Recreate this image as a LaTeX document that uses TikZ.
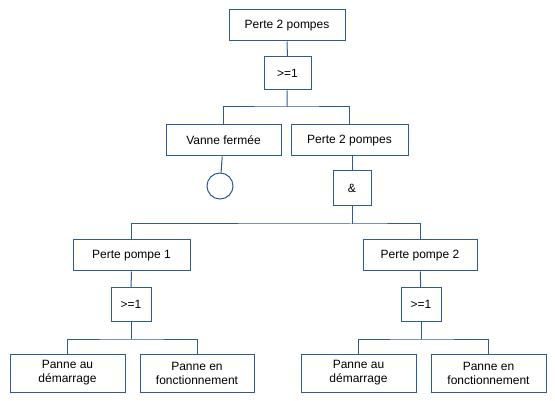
\documentclass[tikz,border=0pt]{standalone}
\usepackage{fontspec}
\setmainfont{Liberation Sans}
\begin{document}
\begin{tikzpicture}[x=1pt,y=-1pt,
  bx/.style={draw=bl,fill=white,line width=1pt,inner sep=0pt,font=\fontsize{12}{14}\selectfont,align=center},
  ln/.style={draw=bl,line width=1pt}]
\definecolor{bl}{HTML}{2E5A96}
\useasboundingbox (0,0) rectangle (555,401);
\newcommand\bxat[6]{\node[bx,minimum width=#4-#2,minimum height=#5-#3] (#1) at ({(#2+#4)/2},{(#3+#5)/2}) {#6};}
\bxat{t}{229}{10}{345}{41}{Perte 2 pompes}
\bxat{g1}{264}{57}{311}{90}{>=1}
\bxat{v}{166}{125}{281}{156}{Vanne fermée}
\bxat{p2}{291}{125}{408}{156}{Perte 2 pompes}
\node[draw=bl,line width=1pt,circle,minimum size=26pt,inner sep=0pt] (c) at (220,186) {};
\bxat{g2}{333}{171}{371}{206}{\&}
\bxat{pa}{73}{240}{190}{271}{Perte pompe 1}
\bxat{pb}{363}{240}{477}{271}{Perte pompe 2}
\bxat{ga}{111}{288}{151}{321}{>=1}
\bxat{gb}{401}{288}{441}{321}{>=1}
\bxat{l1}{10}{354}{125}{392}{Panne au\\démarrage}
\bxat{l2}{140}{354}{254}{392}{Panne en\\fonctionnement}
\bxat{l3}{301}{354}{416}{392}{Panne au\\démarrage}
\bxat{l4}{431}{354}{546}{392}{Panne en\\fonctionnement}
\coordinate (h1) at (287,107);
\coordinate (h2) at (352,224);
\coordinate (ha) at (131,339);
\coordinate (hb) at (421,339);
\draw[ln] (t) -- (g1); \draw[ln] (g1) -- (h1);
\draw[ln] (v) |- (h1) -| (p2);
\draw[ln] (v) -- (c);
\draw[ln] (p2.south -| g2) -- (g2); \draw[ln] (g2) -- (h2);
\draw[ln] (pa) |- (h2) -| (pb);
\draw[ln] (pa) -- (ga); \draw[ln] (ga) -- (ha);
\draw[ln] (pb) -- (gb); \draw[ln] (gb) -- (hb);
\draw[ln] (l1) |- (ha) -| (l2);
\draw[ln] (l3) |- (hb) -| (l4);
\end{tikzpicture}
\end{document}
